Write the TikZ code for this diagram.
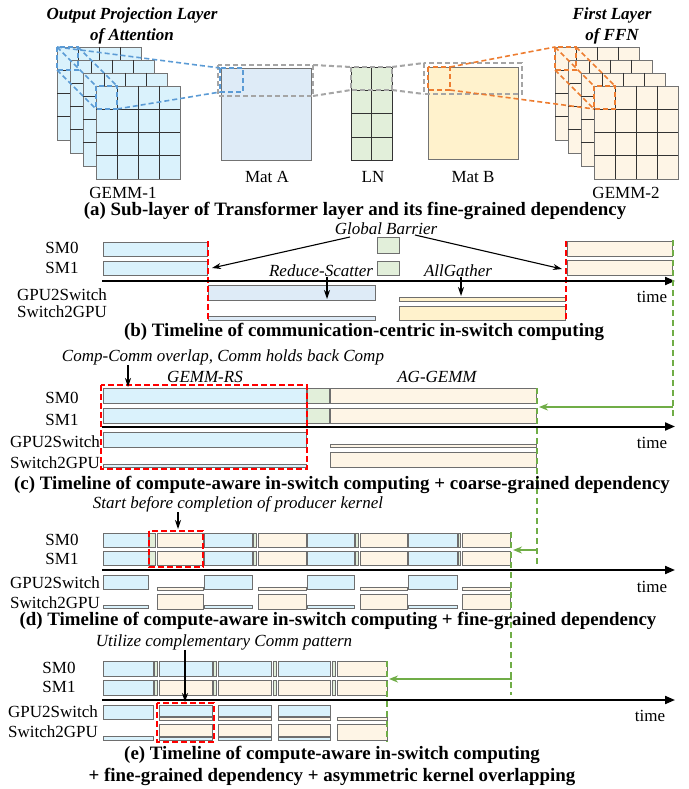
\documentclass[tikz,border=0pt]{standalone}
\usepackage{fontspec}
\setmainfont{Liberation Serif}
\usetikzlibrary{arrows.meta}

\definecolor{compblue}{HTML}{DAF2FC}
\definecolor{matblue}{HTML}{DEEBF7}
\definecolor{lngreen}{HTML}{E2EFDA}
\definecolor{matorange}{HTML}{FFF2CC}
\definecolor{compor}{HTML}{FEF5E6}
\definecolor{hlblue}{HTML}{5B9BD5}
\definecolor{hlorange}{HTML}{ED7D31}
\definecolor{hlgray}{HTML}{A5A5A5}
\definecolor{depgreen}{HTML}{70AD47}
\definecolor{edgegray}{HTML}{6E6E6E}

\begin{document}
\begin{tikzpicture}[x=1pt, y=-1pt, font=\fontsize{17}{21}\selectfont, inner sep=0pt,
  barbox/.style={draw=edgegray, line width=0.9pt},
  cellline/.style={draw=black!80, line width=0.7pt},
  hlb/.style={draw=hlblue, dash pattern=on 5pt off 3pt, line width=1.6pt},
  hlo/.style={draw=hlorange, dash pattern=on 5pt off 3pt, line width=1.6pt},
  hlg/.style={draw=hlgray, dash pattern=on 5pt off 3pt, line width=2pt},
  barrier/.style={draw=red, dash pattern=on 6pt off 3pt, line width=1.8pt},
  dep/.style={draw=depgreen, dash pattern=on 6pt off 4pt, line width=1.6pt},
  arr/.style={-{Stealth[length=9pt,width=6pt]}, line width=1.1pt},
  deparr/.style={-{Stealth[length=9pt,width=7pt]}, draw=depgreen, line width=1.6pt},
  timeax/.style={-{Triangle[length=10pt,width=8pt]}, line width=2pt},
  lbl/.style={anchor=center},
  note/.style={font=\fontsize{17}{21}\selectfont\itshape},
  capt/.style={font=\fontsize{18.9}{22}\selectfont\bfseries, align=center},
  ttl/.style={font=\fontsize{17}{21}\selectfont\bfseries\itshape, align=center}]
\useasboundingbox (0,0) rectangle (688,789);

% ---- (a) sub-layer ----
\node[ttl] (ttla) at (132,26) {Output Projection Layer\\of Attention};
\node[ttl] (ttlb) at (612,26) {First Layer\\of FFN};
\foreach \i in {0,...,3} {
  \filldraw[fill=compblue, draw=black!55, line width=0.9pt] (57+13*\i,47+13*\i) rectangle ++(84,93);
  \foreach \k in {1,2,3} {
    \draw[cellline] (57+13*\i+21*\k,47+13*\i) -- ++(0,93);
    \draw[cellline] (57+13*\i,47+13*\i+23.25*\k) -- ++(84,0);
  }
}
\foreach \i in {0,...,3} {
  \filldraw[fill=compor, draw=black!55, line width=0.9pt] (555+13*\i,47+13*\i) rectangle ++(84,93);
  \foreach \k in {1,2,3} {
    \draw[cellline] (555+13*\i+21*\k,47+13*\i) -- ++(0,93);
    \draw[cellline] (555+13*\i,47+13*\i+23.25*\k) -- ++(84,0);
  }
}
\filldraw[fill=matblue, draw=black!55, line width=0.9pt] (221,68) rectangle (311,160);
\filldraw[fill=lngreen, draw=black!80, line width=0.9pt] (351,67) rectangle (392,160);
\draw[cellline] (371.5,67) -- (371.5,160);
\foreach \y in {90,113.5,137} \draw[cellline] (351,\y) -- (392,\y);
\filldraw[fill=matorange, draw=black!55, line width=0.9pt] (428,67) rectangle (518,159);

\node (gemma) at (123,193) {GEMM-1};
\node (mata) at (267,177) {Mat A};
\node (ln) at (373,177) {LN};
\node (matb) at (473,177) {Mat B};
\node (gemmb) at (626,193) {GEMM-2};

\draw[hlg] (218,65) rectangle (313,96);
\draw[hlg] (351,67) rectangle (392,90);
\draw[hlg] (424,63) rectangle (522,94);
\draw[hlg] (313,65) -- (351,67);
\draw[hlg] (313,96) -- (351,90);
\draw[hlg] (392,67) -- (424,63);
\draw[hlg] (392,90) -- (424,94);

\draw[hlb] (57,47) rectangle (78,70);
\draw[hlb] (96,86) rectangle (117,109);
\draw[hlb] (57,47) -- (96,86);
\draw[hlb] (78,47) -- (117,86);
\draw[hlb] (57,70) -- (96,109);
\draw[hlb] (220,68) rectangle (243,92);
\draw[hlb] (57,47) -- (220,68);
\draw[hlb] (117,109) -- (220,92);

\draw[hlo] (555,47) rectangle (576,70);
\draw[hlo] (594,86) rectangle (615,109);
\draw[hlo] (555,47) -- (594,86);
\draw[hlo] (576,47) -- (615,86);
\draw[hlo] (555,70) -- (594,109);
\draw[hlo] (428,67) rectangle (450,90);
\draw[hlo] (450,67) -- (555,47);
\draw[hlo] (450,90) -- (594,109);

\node[capt] (capa) at (355,211) {(a) Sub-layer of Transformer layer and its fine-grained dependency};

% ---- (b) communication-centric ----
\node[lbl] (smzb) at (62,248) {SM0};
\node[lbl] (smob) at (62,268) {SM1};
\node[lbl] (gsb) at (62,295) {GPU2Switch};
\node[lbl] (sgb) at (62,312) {Switch2GPU};
\filldraw[barbox, fill=compblue] (103,242) rectangle (207,256);
\filldraw[barbox, fill=compblue] (103,261) rectangle (207,275);
\filldraw[barbox, fill=matblue] (208,285) rectangle (375,300);
\filldraw[barbox, fill=matblue] (208,316) rectangle (375,320);
\filldraw[barbox, fill=lngreen] (377,237) rectangle (399,253);
\filldraw[barbox, fill=lngreen] (377,261) rectangle (399,275);
\filldraw[barbox, fill=matorange] (399,297) rectangle (565,301);
\filldraw[barbox, fill=matorange] (399,306) rectangle (565,320);
\filldraw[barbox, fill=compor] (567,241) rectangle (672,256);
\filldraw[barbox, fill=compor] (567,260) rectangle (672,275);
\draw[barrier] (208,241) -- (208,321);
\draw[barrier] (566,241) -- (566,321);
\coordinate (axb0) at (102,281);
\coordinate (axb1) at (675,281);
\draw[timeax] (axb0) -- (axb1);
\node (timeb) at (652,297) {time};
\node[note] (gb) at (386,229) {Global Barrier};
\node[note] (rs) at (321,271) {Reduce-Scatter};
\node[note] (ag) at (458,271) {AllGather};
\coordinate (gbl) at (350,237);
\coordinate (gbr) at (415,235);
\coordinate (barl) at (212,268);
\coordinate (barr) at (562,269);
\draw[arr] (gbl) -- (barl);
\draw[arr] (gbr) -- (barr);
\coordinate (rsbar) at (327,299);
\coordinate (agbar) at (461,296);
\draw[arr] (rs.south -| rsbar) -- (rsbar);
\draw[arr] (ag.south -| agbar) -- (agbar);
\coordinate (depb0) at (673,240);
\coordinate (depb1) at (673,417);
\coordinate (depbt) at (673,407);
\coordinate (depbh) at (539,407);
\draw[dep] (depb0) -- (depb1);
\draw[deparr] (depbt) -- (depbh);
\node[capt] (capb) at (364,332) {(b) Timeline of communication-centric in-switch computing};

% ---- (c) coarse-grained ----
\node[lbl] (smzc) at (62,398) {SM0};
\node[lbl] (smoc) at (62,420) {SM1};
\node[lbl] (gsc) at (55,442) {GPU2Switch};
\node[lbl] (sgc) at (55,463) {Switch2GPU};
\node[note] (ovl) at (223,357) {Comp-Comm overlap, Comm holds back Comp};
\node[note] (gemmrs) at (205,377) {GEMM-RS};
\node[note] (aggemm) at (437,377) {AG-GEMM};
\filldraw[barbox, fill=compblue] (103,388) rectangle (306,403);
\filldraw[barbox, fill=compblue] (103,408) rectangle (306,423);
\filldraw[barbox, fill=lngreen] (307,388) rectangle (329,403);
\filldraw[barbox, fill=lngreen] (307,408) rectangle (329,423);
\filldraw[barbox, fill=compor] (330,388) rectangle (536,403);
\filldraw[barbox, fill=compor] (330,408) rectangle (536,423);
\filldraw[barbox, fill=compblue] (103,432) rectangle (306,447);
\filldraw[barbox, fill=compblue] (103,464) rectangle (306,467);
\filldraw[barbox, fill=compor] (330,444) rectangle (536,447);
\filldraw[barbox, fill=compor] (330,452) rectangle (536,467);
\draw[barrier] (101,385) rectangle (307,469);
\coordinate (axc0) at (102,426.5);
\coordinate (axc1) at (675,426.5);
\draw[timeax] (axc0) -- (axc1);
\node (timec) at (652,443) {time};
\coordinate (ovlbar) at (128,387);
\draw[arr] (ovl.south -| ovlbar) -- (ovlbar);
\coordinate (depc0) at (537,388);
\coordinate (depc1) at (537,567);
\coordinate (depct) at (537,550);
\coordinate (depch) at (513,550);
\draw[dep] (depc0) -- (depc1);
\draw[deparr] (depct) -- (depch);
\node[capt] (capc) at (342,485) {(c) Timeline of compute-aware in-switch computing + coarse-grained dependency};

% ---- (d) fine-grained ----
\node[lbl] (smzd) at (62,540) {SM0};
\node[lbl] (smod) at (62,559) {SM1};
\node[lbl] (gsd) at (55,583) {GPU2Switch};
\node[lbl] (sgd) at (55,603) {Switch2GPU};
\node[note] (early) at (238,504) {Start before completion of producer kernel};
\foreach \b/\g/\o/\e in {103/149/157/203, 204/253/258/306, 307/355/360/407, 408/458/462/510} {
  \foreach \ya/\yb in {533/547, 551/565} {
    \filldraw[barbox, fill=compblue] (\b,\ya) rectangle (\g-1,\yb);
    \filldraw[barbox, fill=lngreen] (\g,\ya) rectangle (\o-2,\yb);
    \filldraw[barbox, fill=compor] (\o,\ya) rectangle (\e,\yb);
  }
  \filldraw[barbox, fill=compblue] (\b,575) rectangle (\g-1,589);
  \filldraw[barbox, fill=compor] (\o,587) rectangle (\e,590);
  \filldraw[barbox, fill=compblue] (\b,605) rectangle (\g-1,608);
  \filldraw[barbox, fill=compor] (\o,594) rectangle (\e,609);
}
\draw[barrier] (149,531) rectangle (203,567);
\coordinate (axd0) at (102,570);
\coordinate (axd1) at (675,570);
\draw[timeax] (axd0) -- (axd1);
\node (timed) at (652,587) {time};
\coordinate (earlybar) at (178,529);
\draw[arr] (early.south -| earlybar) -- (earlybar);
\coordinate (depd0) at (511,532);
\coordinate (depd1) at (511,695);
\coordinate (depdt) at (512,679);
\coordinate (depdh) at (389,679);
\draw[dep] (depd0) -- (depd1);
\draw[deparr] (depdt) -- (depdh);
\node[capt] (capd) at (338,621) {(d) Timeline of compute-aware in-switch computing + fine-grained dependency};

% ---- (e) asymmetric overlapping ----
\node[lbl] (smze) at (59,668) {SM0};
\node[lbl] (smoe) at (59,687) {SM1};
\node[lbl] (gse) at (53,712) {GPU2Switch};
\node[lbl] (sge) at (53,732) {Switch2GPU};
\node[note] (compl) at (224,642) {Utilize complementary Comm pattern};
\foreach \ya/\yb in {661/676, 680/695}
  \filldraw[barbox, fill=compblue] (103,\ya) rectangle (153,\yb);
\foreach \s/\e in {159/212, 218/271, 278/330, 337/387} {
  \filldraw[barbox, fill=lngreen] (\s-5,661) rectangle (\s-2,676);
  \filldraw[barbox, fill=lngreen] (\s-5,680) rectangle (\s-2,695);
  \filldraw[barbox, fill=compor] (\s,680) rectangle (\e,695);
}
\foreach \s/\e in {159/212, 218/271, 278/330} {
  \filldraw[barbox, fill=compblue] (\s,661) rectangle (\e,676);
  \filldraw[barbox, fill=compblue] (\s,705) rectangle (\e,716);
  \filldraw[barbox, fill=compor] (\s,717.5) rectangle (\e,720);
  \filldraw[barbox, fill=compor] (\s,724) rectangle (\e,736);
  \filldraw[barbox, fill=compblue] (\s,737.5) rectangle (\e,740);
}
\filldraw[barbox, fill=compor] (337,661) rectangle (387,676);
\filldraw[barbox, fill=compblue] (103,705) rectangle (153,719);
\filldraw[barbox, fill=compblue] (103,736) rectangle (153,740);
\filldraw[barbox, fill=compor] (337,717) rectangle (387,720);
\filldraw[barbox, fill=compor] (337,724) rectangle (387,740);
\draw[barrier] (157,703) rectangle (214,742);
\coordinate (axe0) at (102,700);
\coordinate (axe1) at (675,700);
\draw[timeax] (axe0) -- (axe1);
\node (timee) at (650,716) {time};
\coordinate (complbar) at (185,702);
\draw[arr] (compl.south -| complbar) -- (complbar);
\coordinate (depe0) at (387,661);
\coordinate (depe1) at (387,742);
\draw[dep] (depe0) -- (depe1);
\node[capt] (cape) at (332,766) {(e) Timeline of compute-aware in-switch computing\\+ fine-grained dependency + asymmetric kernel overlapping};
\end{tikzpicture}
\end{document}
